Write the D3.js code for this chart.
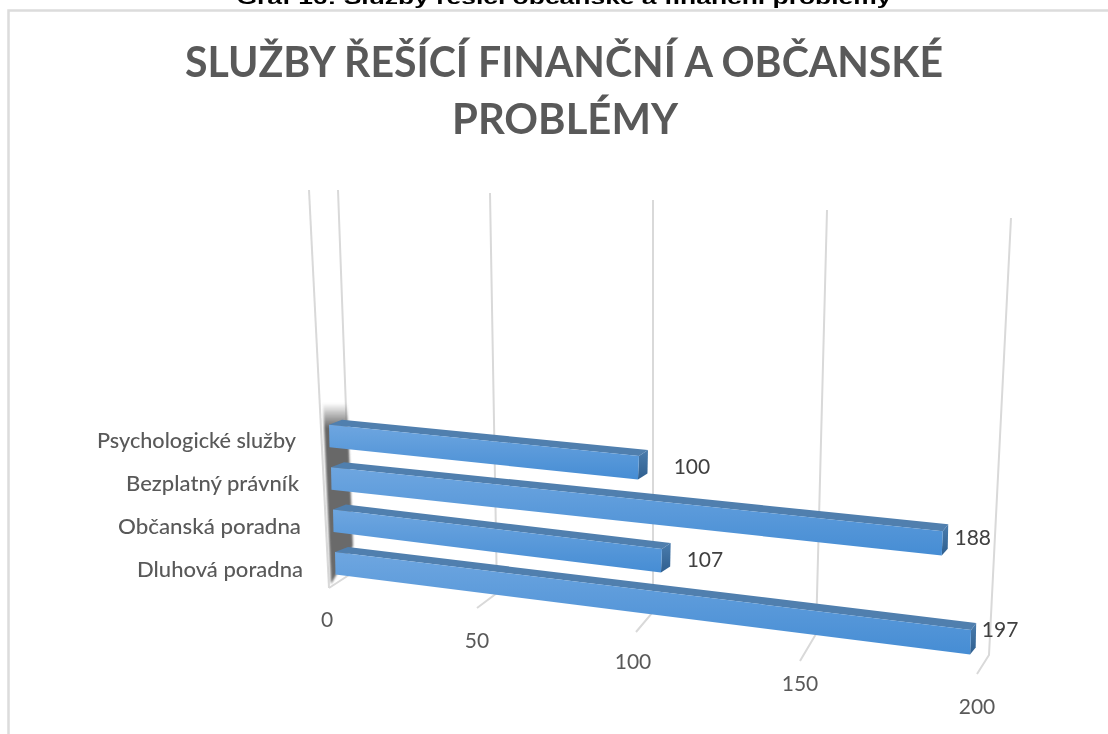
<!DOCTYPE html>
<html lang="cs">
<head>
<meta charset="utf-8">
<script src="https://cdn.jsdelivr.net/npm/d3@7"></script>
<style>
html,body{margin:0;padding:0;background:#fff;overflow:hidden}
svg{display:block;filter:blur(.5px)}
</style>
</head>
<body>
<svg id="chart" width="1108" height="734"></svg>
<script>
const caption = "Graf 16: Služby řešící občanské a finanční problémy";
const titleLines = ["SLUŽBY ŘEŠÍCÍ FINANČNÍ A OBČANSKÉ", "PROBLÉMY"];
const categories = ["Psychologické služby", "Bezplatný právník", "Občanská poradna", "Dluhová poradna"];
const values = [100, 188, 107, 197];
const valueTicks = [0, 50, 100, 150, 200];

const svg = d3.select("#chart");
const defs = svg.append("defs");
const grad = (id, stops) => {
  const g = defs.append("linearGradient").attr("id", id).attr("x1", 0).attr("y1", 0).attr("x2", 0).attr("y2", 1);
  stops.forEach(([o, c, a]) => g.append("stop").attr("offset", o).attr("stop-color", c).attr("stop-opacity", a === undefined ? 1 : a));
};
grad("front", [[0, "#6ea6e0"], [1, "#468dd4"]]);
grad("side", [[0, "#4a7cad"], [1, "#2f5f8f"]]);
grad("wall", [[0, "#666", 0], [0.14, "#666", 1], [1, "#6c6c6c", 1]]);
defs.append("filter").attr("id", "soft").append("feGaussianBlur").attr("stdDeviation", 1.2);

// Perspective of the grid: each tick value maps to three points of its gridline.
const sc = r => d3.scaleLinear().domain(valueTicks).range(r);
const topX = sc([338, 490, 653, 827, 1011]), topY = sc([190, 193, 200, 210, 218]);
const backX = sc([352, 497, 653, 816, 989]), backY = sc([573, 593, 612, 634, 655]);
const tickX = sc([329, 477, 636, 800, 977]), tickY = sc([588, 608, 632, 661, 674]);
const labelX = sc([327, 477, 633, 800, 977]), labelY = sc([620, 641, 662, 684, 707]);

// Frame
svg.append("path").attr("fill", "none").attr("stroke", "#dcdcdc").attr("stroke-width", 2.5)
  .attr("d", d3.line()([[1108, 10.5], [8.5, 10.5], [8.5, 734]]));

// Texts on top
svg.append("text").attr("x", 564).attr("y", 4).attr("text-anchor", "middle")
  .attr("font-family", "Liberation Sans").attr("font-weight", "bold").attr("font-size", 17.5)
  .attr("textLength", 655).attr("lengthAdjust", "spacingAndGlyphs").attr("fill", "#000").text(caption);
const tb = [[564, 77, 758], [565, 134, 226]];
svg.selectAll(".title").data(titleLines).join("text").attr("class", "title")
  .attr("x", (d, i) => tb[i][0]).attr("y", (d, i) => tb[i][1]).attr("text-anchor", "middle")
  .attr("font-family", "Lato").attr("font-size", 42).attr("font-weight", 700).attr("fill", "#595959")
  .attr("textLength", (d, i) => tb[i][2]).attr("lengthAdjust", "spacingAndGlyphs").text(d => d);

// Gridlines
const grid = svg.append("g").attr("fill", "none").attr("stroke", "#d9d9d9").attr("stroke-width", 2);
grid.selectAll("path.g").data(valueTicks).join("path").attr("class", "g")
  .attr("d", v => d3.line()([[topX(v), topY(v)], [backX(v), backY(v)], [tickX(v), tickY(v)]]));
grid.append("path").attr("d", d3.line()([[309, 190], [tickX(0), tickY(0)]]));

// Back wall shadow
svg.append("path").attr("fill", "url(#wall)").attr("filter", "url(#soft)")
  .attr("d", d3.line()([[323, 403], [347, 403], [353, 546], [331, 584]]) + "Z");

// Bars
const rowY = d3.scalePoint().domain(categories).range([424.7, 552]);
const rowX = d3.scalePoint().domain(categories).range([329, 335]);
const rowSlope = d3.scalePoint().domain(categories).range([0.313, 0.396]);
const rowGain = d3.scaleOrdinal().domain(categories).range([0.984, 1.033, 0.976, 1.025]);
const barLen = d3.scaleLinear().domain([0, 200]).range([0, 630]);
const depthX = d3.scaleLinear().domain([0, 200]).range([13, 5]);
const depthY = d3.scaleLinear().domain([0, 200]).range([-5, -7]);
const barH = d3.scaleLinear().domain([0, 200]).range([22.5, 24.5]);

const pt = (c, v) => [rowX(c) + barLen(v) * rowGain(c), rowY(c) + v * rowSlope(c)];
const poly = d3.line();
const bars = svg.append("g").selectAll("g").data(categories.map((c, i) => ({c, v: values[i]}))).join("g");
bars.each(function (d) {
  const g = d3.select(this);
  const [x0, y0] = pt(d.c, 0), [x1, y1] = pt(d.c, d.v);
  const h0 = barH(0), h1 = barH(d.v);
  const dx0 = depthX(0), dy0 = depthY(0), dx1 = depthX(d.v), dy1 = depthY(d.v);
  g.append("path").attr("fill", "#507fae")
    .attr("d", poly([[x0, y0], [x0 + dx0, y0 + dy0], [x1 + dx1, y1 + dy1], [x1, y1]]) + "Z");
  g.append("path").attr("fill", "url(#side)")
    .attr("d", poly([[x1, y1], [x1 + dx1, y1 + dy1], [x1 + dx1 - 0.5, y1 + dy1 + h1], [x1 - 1, y1 + h1]]) + "Z");
  g.append("path").attr("fill", "url(#front)")
    .attr("d", poly([[x0, y0], [x1, y1], [x1 - 1, y1 + h1], [x0 + 0.5, y0 + h0]]) + "Z");
});

// Category labels
const catY = d3.scalePoint().domain(categories).range([448, 577]);
const catRight = d3.scaleOrdinal().domain(categories).range([296, 299, 301, 303]);
const catWidth = d3.scaleOrdinal().domain(categories).range([199, 173, 183, 166]);
svg.selectAll(".cat").data(categories).join("text").attr("class", "cat")
  .attr("x", d => catRight(d)).attr("y", d => catY(d)).attr("text-anchor", "end")
  .attr("font-family", "Lato").attr("font-size", 21).attr("font-weight", 500).attr("fill", "#595959")
  .attr("textLength", d => catWidth(d)).attr("lengthAdjust", "spacingAndGlyphs").text(d => d);

// Value axis labels
svg.selectAll(".tick").data(valueTicks).join("text").attr("class", "tick")
  .attr("x", v => labelX(v)).attr("y", v => labelY(v) + 7).attr("text-anchor", "middle")
  .attr("font-family", "Lato").attr("font-size", 21).attr("fill", "#595959").text(v => v);

// Data labels
const dataLabelOffset = d3.scaleOrdinal().domain(categories).range([[53, 18], [30, 14], [43, 18], [29, 7]]);
svg.selectAll(".val").data(values).join("text").attr("class", "val")
  .attr("x", (v, i) => pt(categories[i], v)[0] + dataLabelOffset(categories[i])[0])
  .attr("y", (v, i) => pt(categories[i], v)[1] + dataLabelOffset(categories[i])[1])
  .attr("text-anchor", "middle").attr("font-family", "Lato").attr("font-size", 21).attr("fill", "#404040")
  .text(v => v);
</script>
</body>
</html>
